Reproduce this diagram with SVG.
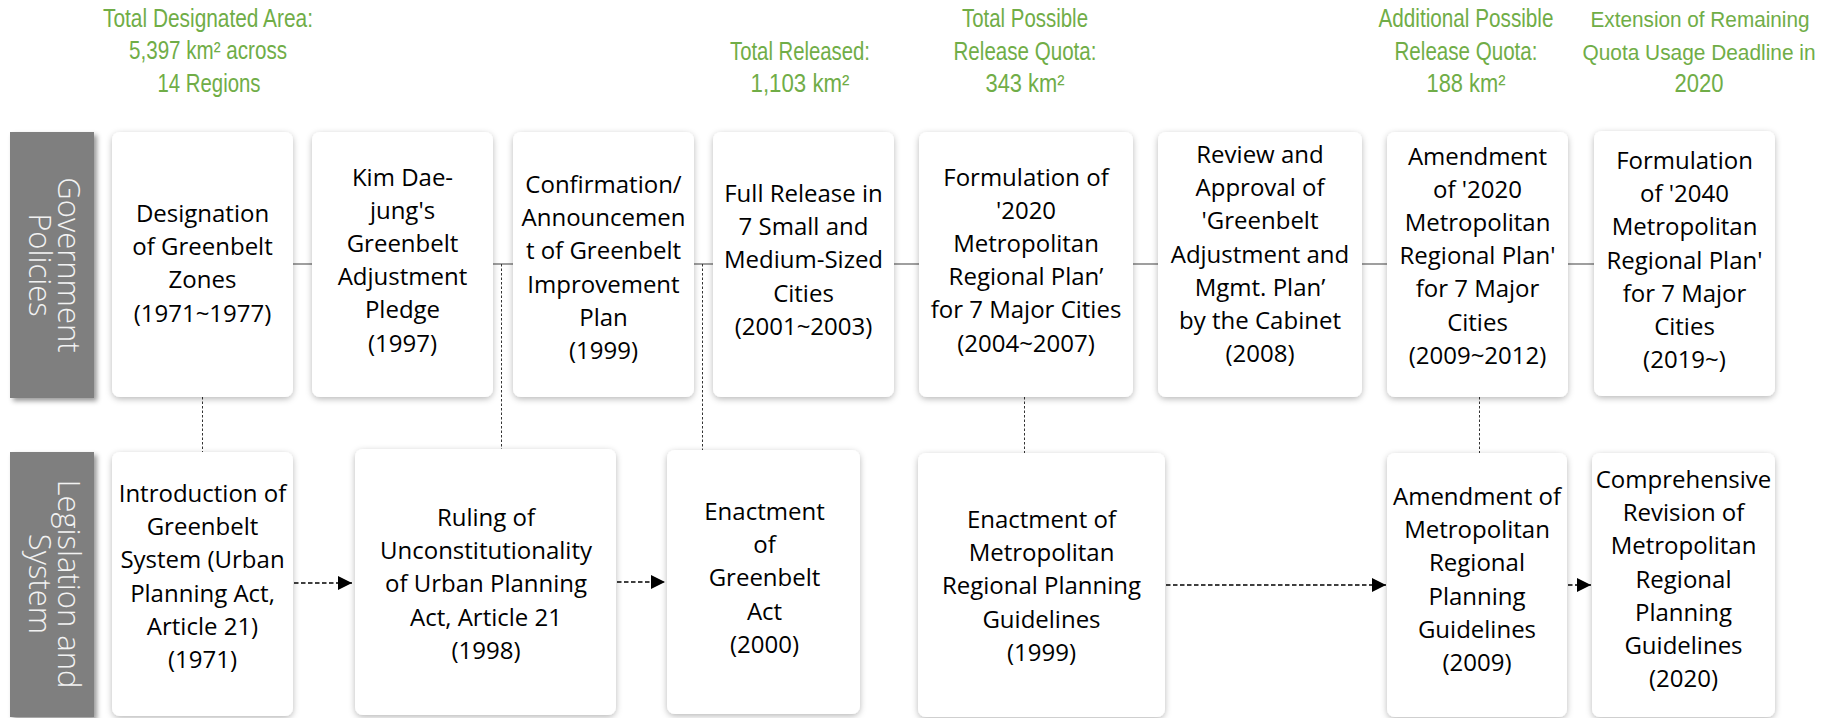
<svg xmlns="http://www.w3.org/2000/svg" width="1833" height="718" viewBox="0 0 1833 718">
<defs>
<filter id="sh" x="-20%" y="-20%" width="140%" height="140%">
<feDropShadow dx="0" dy="2" stdDeviation="3" flood-color="#000" flood-opacity="0.28"/>
</filter>
<filter id="sh2" x="-20%" y="-20%" width="150%" height="140%">
<feDropShadow dx="3" dy="3" stdDeviation="2.5" flood-color="#000" flood-opacity="0.4"/>
</filter>
<marker id="ah" markerUnits="userSpaceOnUse" markerWidth="15" markerHeight="14" refX="14" refY="7" orient="auto">
<path d="M0,0 L14,7 L0,14 Z" fill="#000"/>
</marker>
<style>
.box{fill:#fff;filter:url(#sh)}
.lbl{fill:#7f7f7f;filter:url(#sh2)}
.t{font-family:"Open Sans","Noto Sans",sans-serif;font-size:24px;fill:#000;text-anchor:middle}
.side{font-family:"Open Sans","Noto Sans",sans-serif;font-size:31px;font-weight:300;fill:#f2f2f2;text-anchor:middle}
.g{font-family:"Liberation Sans Narrow","Liberation Sans",sans-serif;font-size:25px;fill:#70AD47;text-anchor:middle}
.gs{font-size:22px}
.solid{stroke:#7f7f7f;stroke-width:1.5;fill:none}
.dot{stroke:#333;stroke-width:1;stroke-dasharray:2.5,2;fill:none}
.dash{stroke:#000;stroke-width:1.4;stroke-dasharray:4.5,2.5;fill:none;marker-end:url(#ah)}
</style>
</defs>
<rect width="1833" height="718" fill="#fff"/>

<g id="green-labels">
<text class="g" x="208" y="27" textLength="210" lengthAdjust="spacingAndGlyphs">Total Designated Area:</text>
<text class="g" x="208" y="59" textLength="158" lengthAdjust="spacingAndGlyphs">5,397 km² across</text>
<text class="g" x="209" y="92" textLength="103" lengthAdjust="spacingAndGlyphs">14 Regions</text>
<text class="g" x="800" y="60" textLength="140" lengthAdjust="spacingAndGlyphs">Total Released:</text>
<text class="g" x="800" y="92" textLength="99" lengthAdjust="spacingAndGlyphs">1,103 km²</text>
<text class="g" x="1025" y="27" textLength="126" lengthAdjust="spacingAndGlyphs">Total Possible</text>
<text class="g" x="1025" y="60" textLength="143" lengthAdjust="spacingAndGlyphs">Release Quota:</text>
<text class="g" x="1025" y="92" textLength="79" lengthAdjust="spacingAndGlyphs">343 km²</text>
<text class="g" x="1466" y="27" textLength="175" lengthAdjust="spacingAndGlyphs">Additional Possible</text>
<text class="g" x="1466" y="60" textLength="143" lengthAdjust="spacingAndGlyphs">Release Quota:</text>
<text class="g" x="1466" y="92" textLength="79" lengthAdjust="spacingAndGlyphs">188 km²</text>
<text class="g gs" x="1700" y="27" textLength="219" lengthAdjust="spacingAndGlyphs">Extension of Remaining</text>
<text class="g gs" x="1699" y="60" textLength="233" lengthAdjust="spacingAndGlyphs">Quota Usage Deadline in</text>
<text class="g" x="1699" y="92" textLength="49" lengthAdjust="spacingAndGlyphs">2020</text>
</g>

<g id="connectors">
<line class="solid" x1="293" y1="264" x2="312" y2="264"/>
<line class="solid" x1="493" y1="264" x2="513" y2="264"/>
<line class="solid" x1="694" y1="264" x2="713" y2="264"/>
<line class="solid" x1="894" y1="264" x2="919" y2="264"/>
<line class="solid" x1="1133" y1="264" x2="1158" y2="264"/>
<line class="solid" x1="1362" y1="264" x2="1387" y2="264"/>
<line class="solid" x1="1568" y1="264" x2="1594" y2="264"/>
<line class="dot" x1="202.5" y1="397" x2="202.5" y2="452"/>
<line class="dot" x1="501.5" y1="264" x2="501.5" y2="449"/>
<line class="dot" x1="702.5" y1="264" x2="702.5" y2="450"/>
<line class="dot" x1="1024.5" y1="397" x2="1024.5" y2="453"/>
<line class="dot" x1="1479.5" y1="397" x2="1479.5" y2="453"/>
<line class="dash" x1="294" y1="583" x2="352" y2="583"/>
<line class="dash" x1="617" y1="582" x2="665" y2="582"/>
<line class="dash" x1="1166" y1="585" x2="1386" y2="585"/>
<line class="dash" x1="1568" y1="585" x2="1591" y2="585"/>
</g>

<g id="label-gov">
<rect class="lbl" x="10" y="132" width="84" height="266"/>
<text class="side" transform="translate(58,265) rotate(90)">Government</text>
<text class="side" transform="translate(29,265) rotate(90)">Policies</text>
</g>
<g id="label-leg">
<rect class="lbl" x="10" y="452" width="84" height="265"/>
<text class="side" transform="translate(58,584) rotate(90)">Legislation and</text>
<text class="side" transform="translate(29,584) rotate(90)">System</text>
</g>

<g id="p1">
<rect class="box" x="112" y="132" width="181" height="265" rx="8"/>
<text class="t"><tspan x="202.5" y="222">Designation</tspan><tspan x="202.5" y="255.2">of Greenbelt</tspan><tspan x="202.5" y="288.4">Zones</tspan><tspan x="202.5" y="321.6">(1971~1977)</tspan></text>
</g>
<g id="p2">
<rect class="box" x="312" y="132" width="181" height="265" rx="8"/>
<text class="t"><tspan x="402.5" y="185.5">Kim Dae-</tspan><tspan x="402.5" y="218.7">jung's</tspan><tspan x="402.5" y="251.9">Greenbelt</tspan><tspan x="402.5" y="285.1">Adjustment</tspan><tspan x="402.5" y="318.3">Pledge</tspan><tspan x="402.5" y="351.5">(1997)</tspan></text>
</g>
<g id="p3">
<rect class="box" x="513" y="132" width="181" height="265" rx="8"/>
<text class="t"><tspan x="603.5" y="193">Confirmation/</tspan><tspan x="603.5" y="226.2">Announcemen</tspan><tspan x="603.5" y="259.4">t of Greenbelt</tspan><tspan x="603.5" y="292.6">Improvement</tspan><tspan x="603.5" y="325.8">Plan</tspan><tspan x="603.5" y="359">(1999)</tspan></text>
</g>
<g id="p4">
<rect class="box" x="713" y="132" width="181" height="265" rx="8"/>
<text class="t"><tspan x="803.5" y="202">Full Release in</tspan><tspan x="803.5" y="235.2">7 Small and</tspan><tspan x="803.5" y="268.4">Medium-Sized</tspan><tspan x="803.5" y="301.6">Cities</tspan><tspan x="803.5" y="334.8">(2001~2003)</tspan></text>
</g>
<g id="p5">
<rect class="box" x="919" y="132" width="214" height="265" rx="8"/>
<text class="t"><tspan x="1026" y="185.5">Formulation of</tspan><tspan x="1026" y="218.7">'2020</tspan><tspan x="1026" y="251.9">Metropolitan</tspan><tspan x="1026" y="285.1">Regional Plan’</tspan><tspan x="1026" y="318.3">for 7 Major Cities</tspan><tspan x="1026" y="351.5">(2004~2007)</tspan></text>
</g>
<g id="p6">
<rect class="box" x="1158" y="132" width="204" height="265" rx="8"/>
<text class="t"><tspan x="1260" y="163">Review and</tspan><tspan x="1260" y="196.2">Approval of</tspan><tspan x="1260" y="229.4">'Greenbelt</tspan><tspan x="1260" y="262.6">Adjustment and</tspan><tspan x="1260" y="295.8">Mgmt. Plan’</tspan><tspan x="1260" y="329">by the Cabinet</tspan><tspan x="1260" y="362.2">(2008)</tspan></text>
</g>
<g id="p7">
<rect class="box" x="1387" y="132" width="181" height="265" rx="8"/>
<text class="t"><tspan x="1477.5" y="164.5">Amendment</tspan><tspan x="1477.5" y="197.7">of '2020</tspan><tspan x="1477.5" y="230.9">Metropolitan</tspan><tspan x="1477.5" y="264.1">Regional Plan'</tspan><tspan x="1477.5" y="297.3">for 7 Major</tspan><tspan x="1477.5" y="330.5">Cities</tspan><tspan x="1477.5" y="363.7">(2009~2012)</tspan></text>
</g>
<g id="p8">
<rect class="box" x="1594" y="131" width="181" height="265" rx="8"/>
<text class="t"><tspan x="1684.5" y="169">Formulation</tspan><tspan x="1684.5" y="202.2">of '2040</tspan><tspan x="1684.5" y="235.4">Metropolitan</tspan><tspan x="1684.5" y="268.6">Regional Plan'</tspan><tspan x="1684.5" y="301.8">for 7 Major</tspan><tspan x="1684.5" y="335">Cities</tspan><tspan x="1684.5" y="368.2">(2019~)</tspan></text>
</g>

<g id="l1">
<rect class="box" x="112" y="452" width="181" height="264" rx="8"/>
<text class="t"><tspan x="202.5" y="502">Introduction of</tspan><tspan x="202.5" y="535.2">Greenbelt</tspan><tspan x="202.5" y="568.4">System (Urban</tspan><tspan x="202.5" y="601.6">Planning Act,</tspan><tspan x="202.5" y="634.8">Article 21)</tspan><tspan x="202.5" y="668">(1971)</tspan></text>
</g>
<g id="l2">
<rect class="box" x="355" y="449" width="261" height="266" rx="8"/>
<text class="t"><tspan x="486" y="526">Ruling of</tspan><tspan x="486" y="559.2">Unconstitutionality</tspan><tspan x="486" y="592.4">of Urban Planning</tspan><tspan x="486" y="625.6">Act, Article 21</tspan><tspan x="486" y="658.8">(1998)</tspan></text>
</g>
<g id="l3">
<rect class="box" x="667" y="450" width="193" height="264" rx="8"/>
<text class="t"><tspan x="764.5" y="520">Enactment</tspan><tspan x="764.5" y="553.2">of</tspan><tspan x="764.5" y="586.4">Greenbelt</tspan><tspan x="764.5" y="619.6">Act</tspan><tspan x="764.5" y="652.8">(2000)</tspan></text>
</g>
<g id="l4">
<rect class="box" x="918" y="453" width="247" height="264" rx="8"/>
<text class="t"><tspan x="1041.5" y="528">Enactment of</tspan><tspan x="1041.5" y="561.2">Metropolitan</tspan><tspan x="1041.5" y="594.4">Regional Planning</tspan><tspan x="1041.5" y="627.6">Guidelines</tspan><tspan x="1041.5" y="660.8">(1999)</tspan></text>
</g>
<g id="l5">
<rect class="box" x="1387" y="453" width="180" height="264" rx="8"/>
<text class="t"><tspan x="1477" y="505">Amendment of</tspan><tspan x="1477" y="538.2">Metropolitan</tspan><tspan x="1477" y="571.4">Regional</tspan><tspan x="1477" y="604.6">Planning</tspan><tspan x="1477" y="637.8">Guidelines</tspan><tspan x="1477" y="671">(2009)</tspan></text>
</g>
<g id="l6">
<rect class="box" x="1592" y="453" width="183" height="264" rx="8"/>
<text class="t"><tspan x="1683.5" y="488">Comprehensive</tspan><tspan x="1683.5" y="521.2">Revision of</tspan><tspan x="1683.5" y="554.4">Metropolitan</tspan><tspan x="1683.5" y="587.6">Regional</tspan><tspan x="1683.5" y="620.8">Planning</tspan><tspan x="1683.5" y="654">Guidelines</tspan><tspan x="1683.5" y="687.2">(2020)</tspan></text>
</g>
</svg>
